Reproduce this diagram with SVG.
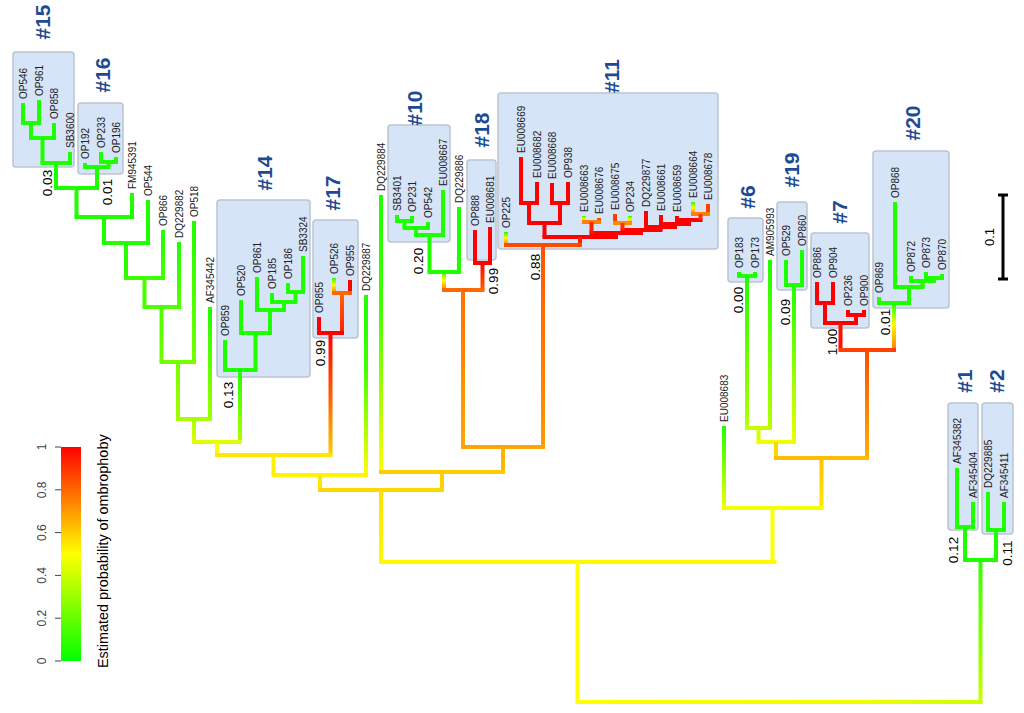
<svg xmlns="http://www.w3.org/2000/svg" width="1024" height="713" viewBox="0 0 1024 713">
<style>
text{font-family:"Liberation Sans",Arial,sans-serif}
.t{font-size:10px;fill:#222}
.c{font-size:21px;font-weight:bold;fill:#1C4B94;text-anchor:middle}
.s{font-size:13.5px;fill:#000;text-anchor:middle}
.k{font-size:12px;fill:#444;text-anchor:middle}
.box{fill:#D6E4F8;stroke:#BCC4CF;stroke-width:1.5}
.g{fill:#1EFF00}
.r{fill:#FF0000}
</style>
<defs>
<linearGradient id="gyo" x1="0" y1="0" x2="0" y2="1"><stop offset="0" stop-color="#1EFF00"/><stop offset="0.45" stop-color="#FFFF00"/><stop offset="1" stop-color="#FF7A00"/></linearGradient>
<linearGradient id="gy2" x1="0" y1="0" x2="0" y2="1"><stop offset="0" stop-color="#1EFF00"/><stop offset="0.4" stop-color="#40FF00"/><stop offset="1" stop-color="#FFFF00"/></linearGradient>
<linearGradient id="g1" x1="0" y1="0" x2="0" y2="1"><stop offset="0" stop-color="#1EFF00"/><stop offset="1" stop-color="#44FF00"/></linearGradient>
<linearGradient id="g2" x1="0" y1="0" x2="0" y2="1"><stop offset="0" stop-color="#1EFF00"/><stop offset="1" stop-color="#55FF00"/></linearGradient>
<linearGradient id="g3" x1="0" y1="0" x2="0" y2="1"><stop offset="0" stop-color="#50FF00"/><stop offset="1" stop-color="#70FF00"/></linearGradient>
<linearGradient id="g4" x1="0" y1="0" x2="0" y2="1"><stop offset="0" stop-color="#1EFF00"/><stop offset="1" stop-color="#77FF00"/></linearGradient>
<linearGradient id="g5" x1="0" y1="0" x2="0" y2="1"><stop offset="0" stop-color="#77FF00"/><stop offset="1" stop-color="#A0FF00"/></linearGradient>
<linearGradient id="g6" x1="0" y1="0" x2="0" y2="1"><stop offset="0" stop-color="#1EFF00"/><stop offset="1" stop-color="#A0FF00"/></linearGradient>
<linearGradient id="g7" x1="0" y1="0" x2="0" y2="1"><stop offset="0" stop-color="#A8FF00"/><stop offset="1" stop-color="#DDFF00"/></linearGradient>
<linearGradient id="g8" x1="0" y1="0" x2="0" y2="1"><stop offset="0" stop-color="#1EFF00"/><stop offset="1" stop-color="#B4FF00"/></linearGradient>
<linearGradient id="g9" x1="0" y1="0" x2="0" y2="1"><stop offset="0" stop-color="#1EFF00"/><stop offset="1" stop-color="#F0FF00"/></linearGradient>
<linearGradient id="gr1" x1="0" y1="0" x2="0" y2="1"><stop offset="0" stop-color="#FF6600"/><stop offset="1" stop-color="#FF2000"/></linearGradient>
<linearGradient id="gry" x1="0" y1="0" x2="0" y2="1"><stop offset="0" stop-color="#FF0000"/><stop offset="0.5" stop-color="#FF5A00"/><stop offset="1" stop-color="#FFCC00"/></linearGradient>
<linearGradient id="gro" x1="0" y1="0" x2="0" y2="1"><stop offset="0" stop-color="#FF0000"/><stop offset="1" stop-color="#FF6000"/></linearGradient>
<linearGradient id="go1" x1="0" y1="0" x2="0" y2="1"><stop offset="0" stop-color="#FF7000"/><stop offset="1" stop-color="#FFA800"/></linearGradient>
<linearGradient id="go2" x1="0" y1="0" x2="0" y2="1"><stop offset="0" stop-color="#FF5500"/><stop offset="1" stop-color="#FF9A00"/></linearGradient>
<linearGradient id="gyy" x1="0" y1="0" x2="0" y2="1"><stop offset="0" stop-color="#FFE000"/><stop offset="1" stop-color="#FFF800"/></linearGradient>
<linearGradient id="go3" x1="0" y1="0" x2="0" y2="1"><stop offset="0" stop-color="#FF4A00"/><stop offset="1" stop-color="#FFB000"/></linearGradient>
<linearGradient id="go4" x1="0" y1="0" x2="0" y2="1"><stop offset="0" stop-color="#FFC000"/><stop offset="1" stop-color="#FFE800"/></linearGradient>
<linearGradient id="gg2" x1="0" y1="0" x2="0" y2="1"><stop offset="0" stop-color="#33FF00"/><stop offset="1" stop-color="#CCFF00"/></linearGradient>
<linearGradient id="hroot" x1="0" y1="0" x2="1" y2="0"><stop offset="0" stop-color="#FFFF00"/><stop offset="0.7" stop-color="#F0FF00"/><stop offset="1" stop-color="#CCFF00"/></linearGradient>
<linearGradient id="leg" x1="0" y1="0" x2="0" y2="1"><stop offset="0" stop-color="#FF0000"/><stop offset="0.25" stop-color="#FF8000"/><stop offset="0.5" stop-color="#FFFF00"/><stop offset="0.75" stop-color="#80FF00"/><stop offset="1" stop-color="#00FF00"/></linearGradient>
</defs>
<rect width="1024" height="713" fill="#fff"/>

<g id="clade-boxes">
<g id="box15"><rect class="box" x="13" y="52" width="61" height="115" rx="3"/><text class="c" transform="translate(43,22) rotate(-90)" dy="0.35em">#15</text></g>
<g id="box16"><rect class="box" x="78" y="103" width="45" height="71" rx="3"/><text class="c" transform="translate(103,75) rotate(-90)" dy="0.35em">#16</text></g>
<g id="box14"><rect class="box" x="217" y="200" width="93" height="177" rx="3"/><text class="c" transform="translate(265,173) rotate(-90)" dy="0.35em">#14</text></g>
<g id="box17"><rect class="box" x="313" y="220" width="45" height="118" rx="3"/><text class="c" transform="translate(333,193) rotate(-90)" dy="0.35em">#17</text></g>
<g id="box10"><rect class="box" x="388" y="125" width="62" height="117" rx="3"/><text class="c" transform="translate(415,108) rotate(-90)" dy="0.35em">#10</text></g>
<g id="box18"><rect class="box" x="467" y="160" width="29" height="100" rx="3"/><text class="c" transform="translate(482,130) rotate(-90)" dy="0.35em">#18</text></g>
<g id="box11"><rect class="box" x="498" y="93" width="220" height="156" rx="3"/><text class="c" transform="translate(612,76) rotate(-90)" dy="0.35em">#11</text></g>
<g id="box6"><rect class="box" x="728" y="218" width="35" height="64" rx="3"/><text class="c" transform="translate(748,197) rotate(-90)" dy="0.35em">#6</text></g>
<g id="box19"><rect class="box" x="777" y="202" width="30" height="88" rx="3"/><text class="c" transform="translate(792,170) rotate(-90)" dy="0.35em">#19</text></g>
<g id="box7"><rect class="box" x="811" y="233" width="58" height="95" rx="3"/><text class="c" transform="translate(840,212) rotate(-90)" dy="0.35em">#7</text></g>
<g id="box20"><rect class="box" x="873" y="151" width="76" height="157" rx="3"/><text class="c" transform="translate(913,123) rotate(-90)" dy="0.35em">#20</text></g>
<g id="box1"><rect class="box" x="948" y="403" width="30" height="127" rx="3"/><text class="c" transform="translate(965,381) rotate(-90)" dy="0.35em">#1</text></g>
<g id="box2"><rect class="box" x="982" y="403" width="31" height="131" rx="3"/><text class="c" transform="translate(997,381) rotate(-90)" dy="0.35em">#2</text></g>
</g>

<g id="connectors">
<!-- #15 / #16 -->
<g class="g">
<rect x="21" y="103" width="4" height="20"/><rect x="37" y="100" width="4" height="23"/><rect x="21" y="121" width="20" height="4"/>
<rect x="29" y="123" width="4" height="15"/><rect x="52" y="123" width="4" height="15"/><rect x="29" y="136" width="27" height="4"/>
<rect x="40.5" y="138" width="4" height="25"/><rect x="68" y="152" width="4" height="11"/><rect x="40.5" y="161" width="31.5" height="4"/>
<rect x="54" y="163" width="4" height="25"/>
<rect x="99" y="152" width="4" height="10"/><rect x="114" y="157" width="4" height="5"/><rect x="99" y="160" width="19" height="4"/>
<rect x="106.5" y="162" width="4" height="5"/><rect x="83" y="163" width="4" height="4"/><rect x="83" y="165" width="27.5" height="4"/>
<rect x="95" y="167" width="4" height="21"/><rect x="54" y="186" width="45" height="4"/>
<rect x="74.5" y="188" width="4" height="29"/><rect x="130" y="193" width="4" height="24"/><rect x="74.5" y="215" width="59.5" height="4"/>
<rect x="102" y="217" width="4" height="26"/><rect x="146" y="200" width="4" height="43"/>
</g>
<rect x="102" y="241" width="48" height="4" fill="#22FF00"/>
<rect x="124" y="243" width="4" height="35" fill="#2AFF00"/>
<rect x="161" y="230" width="4" height="48" fill="url(#g1)"/>
<rect x="124" y="276" width="41" height="4" fill="#3AFF00"/>
<rect x="142.5" y="278" width="4" height="29" fill="#48FF00"/>
<rect x="177" y="242" width="4" height="65" fill="url(#g2)"/>
<rect x="142.5" y="305" width="38.5" height="4" fill="#50FF00"/>
<rect x="159.5" y="307" width="4" height="55" fill="url(#g3)"/>
<rect x="192" y="221" width="4" height="141" fill="url(#g4)"/>
<rect x="159.5" y="360" width="36.5" height="4" fill="#77FF00"/>
<rect x="176" y="362" width="4" height="57" fill="url(#g5)"/>
<rect x="208" y="307" width="4" height="112" fill="url(#g6)"/>
<rect x="176" y="417" width="36" height="4" fill="#A8FF00"/>
<rect x="192" y="419" width="4" height="23" fill="url(#g7)"/>
<!-- #14 -->
<g class="g">
<rect x="286" y="283" width="4" height="9"/><rect x="301" y="256" width="4" height="36"/><rect x="286" y="290" width="19" height="4"/>
<rect x="293.5" y="292" width="4" height="10"/><rect x="270" y="293" width="4" height="9"/><rect x="270" y="300" width="27.5" height="4"/>
<rect x="282" y="302" width="4" height="8"/><rect x="255" y="277" width="4" height="33"/><rect x="255" y="308" width="31" height="4"/>
<rect x="268" y="310" width="4" height="23"/><rect x="239" y="300" width="4" height="33"/><rect x="239" y="331" width="33" height="4"/>
<rect x="253.5" y="333" width="4" height="37"/><rect x="223" y="340" width="4" height="30"/><rect x="223" y="368" width="34.5" height="4"/>
</g>
<rect x="238" y="370" width="4" height="72" fill="url(#g8)"/>
<rect x="192" y="440" width="50" height="4" fill="#E0FF00"/>
<rect x="215" y="442" width="4" height="13" fill="#F8FF00"/>
<!-- #17 -->
<rect x="332" y="278" width="4" height="15" fill="url(#gyo)"/>
<rect x="348" y="280" width="4" height="13" class="r"/>
<rect x="332" y="291" width="20" height="4" fill="#FF6600"/>
<rect x="340" y="293" width="4" height="40" fill="url(#gr1)"/>
<rect x="317" y="317" width="4" height="16" class="r"/>
<rect x="317" y="331" width="27" height="4" class="r"/>
<rect x="328.5" y="333" width="4" height="122" fill="url(#gry)"/>
<rect x="215" y="453" width="117.5" height="4" fill="#FFE800"/>
<rect x="271.5" y="455" width="4" height="20" fill="#FFF000"/>
<rect x="364" y="295" width="4" height="180" fill="url(#gy2)"/>
<rect x="271.5" y="473" width="96.5" height="4" fill="#FFF400"/>
<rect x="318" y="475" width="4" height="15" fill="#FFE800"/>
<!-- #10 -->
<g class="g">
<rect x="395" y="215" width="4" height="6"/><rect x="410" y="216" width="4" height="5"/><rect x="395" y="219" width="19" height="4"/>
<rect x="402.5" y="221" width="4" height="7"/><rect x="426" y="222" width="4" height="6"/><rect x="402.5" y="226" width="27.5" height="4"/>
<rect x="414" y="228" width="4" height="7"/><rect x="441" y="190" width="4" height="45"/><rect x="414" y="233" width="31" height="4"/>
<rect x="427.5" y="235" width="4" height="37"/><rect x="457" y="207" width="4" height="65"/><rect x="427.5" y="270" width="33.5" height="4"/>
</g>
<rect x="442" y="272" width="4" height="18" fill="url(#gyo)"/>
<!-- #18 -->
<g class="r">
<rect x="473" y="230" width="4" height="33"/><rect x="488" y="227" width="4" height="36"/><rect x="473" y="261" width="19" height="4"/>
</g>
<rect x="480.5" y="263" width="4" height="27" fill="url(#gro)"/>
<rect x="442" y="288" width="42.5" height="4" fill="#FF6A00"/>
<rect x="461" y="290" width="4" height="157" fill="url(#go1)"/>
<rect x="379" y="195" width="4" height="277" fill="url(#gy2)"/>
<!-- #11 -->
<g class="r">
<rect x="519" y="157" width="4" height="46"/><rect x="535" y="182" width="4" height="21"/><rect x="519" y="201" width="20" height="4"/>
<rect x="527" y="203" width="4" height="20"/>
<rect x="550" y="183" width="4" height="20"/><rect x="566" y="182" width="4" height="21"/><rect x="550" y="201" width="20" height="4"/>
<rect x="558" y="203" width="4" height="20"/><rect x="527" y="221" width="35" height="4"/>
<rect x="542.5" y="223" width="4" height="14"/>
<rect x="675" y="216" width="4" height="4"/><rect x="675" y="218" width="27.5" height="4"/>
<rect x="687" y="220" width="4" height="4"/><rect x="659" y="215" width="4" height="9"/><rect x="659" y="222" width="32" height="4"/>
<rect x="673" y="224" width="4" height="3"/><rect x="644" y="211" width="4" height="16"/><rect x="644" y="225" width="33" height="4"/>
<rect x="658.5" y="227" width="4" height="3"/><rect x="620.5" y="228" width="42" height="4"/>
<rect x="639" y="230" width="4" height="3"/><rect x="589.5" y="231" width="53.5" height="4"/>
<rect x="614" y="233" width="4" height="4"/><rect x="542.5" y="235" width="75.5" height="4"/>
</g>
<rect x="691" y="202" width="4" height="12" fill="url(#gyo)"/>
<rect x="706" y="204" width="4" height="10" fill="#FF4000"/>
<rect x="691" y="212" width="19" height="4" fill="#FF8000"/>
<rect x="698.5" y="214" width="4" height="6" fill="#FF3000"/>
<rect x="613" y="214" width="4" height="9" fill="#FF4000"/>
<rect x="628" y="216" width="4" height="7" fill="url(#gyo)"/>
<rect x="613" y="221" width="19" height="4" fill="#FF8C00"/>
<rect x="620.5" y="223" width="4" height="7" fill="#FF3000"/>
<rect x="582" y="216" width="4" height="6" fill="url(#gyo)"/>
<rect x="597" y="218" width="4" height="4" fill="#FF5000"/>
<rect x="582" y="220" width="19" height="4" fill="#FF8000"/>
<rect x="589.5" y="222" width="4" height="11" fill="#FF2000"/>
<rect x="578" y="237" width="4" height="8" fill="#FF2000"/>
<rect x="504" y="232" width="4" height="13" fill="url(#gyo)"/>
<rect x="504" y="243" width="78" height="4" fill="#FF4A00"/>
<rect x="541" y="245" width="4" height="202" fill="url(#go2)"/>
<rect x="461" y="445" width="84" height="4" fill="#FFA500"/>
<rect x="501" y="447" width="4" height="25" fill="#FFB400"/>
<rect x="379" y="470" width="126" height="4" fill="#FFCC00"/>
<rect x="440" y="472" width="4" height="18" fill="#FFD000"/>
<rect x="318" y="488" width="126" height="4" fill="#FFD800"/>
<rect x="379" y="490" width="4" height="72" fill="url(#gyy)"/>
<rect x="379" y="560" width="397.5" height="4" fill="#FFFA00"/>
<rect x="575.5" y="562" width="4" height="140" fill="#FFFF00"/>
<!-- right part -->
<rect x="722" y="426" width="4" height="82" fill="url(#g9)"/>
<g class="g">
<rect x="737" y="272" width="4" height="4"/><rect x="753" y="272" width="4" height="4"/><rect x="737" y="274" width="20" height="4"/>
<rect x="784" y="260" width="4" height="25"/><rect x="800" y="250" width="4" height="35"/><rect x="784" y="283" width="20" height="4"/>
</g>
<rect x="745" y="276" width="4" height="152" fill="url(#g8)"/>
<rect x="768" y="260" width="4" height="168" fill="url(#g8)"/>
<rect x="745" y="426" width="27" height="4" fill="#C4FF00"/>
<rect x="756.5" y="428" width="4" height="14" fill="#D8FF00"/>
<rect x="792" y="285" width="4" height="157" fill="url(#g9)"/>
<rect x="756.5" y="440" width="39.5" height="4" fill="#F0FF00"/>
<rect x="774" y="442" width="4" height="16" fill="#FFD400"/>
<!-- #7 -->
<g class="r">
<rect x="815" y="282" width="4" height="21"/><rect x="831" y="282" width="4" height="21"/><rect x="815" y="301" width="20" height="4"/>
<rect x="823" y="303" width="4" height="20"/>
<rect x="846" y="310" width="4" height="5"/><rect x="862" y="310" width="4" height="5"/><rect x="846" y="313" width="20" height="4"/>
<rect x="854" y="315" width="4" height="8"/><rect x="823" y="321" width="35" height="4"/>
</g>
<rect x="838.5" y="323" width="4" height="27" fill="#FF1000"/>
<!-- #20 -->
<g class="g">
<rect x="924" y="272" width="4" height="6"/><rect x="940" y="274" width="4" height="4"/><rect x="924" y="276" width="20" height="4"/>
<rect x="932" y="278" width="4" height="3"/><rect x="909" y="276" width="4" height="5"/><rect x="909" y="279" width="27" height="4"/>
<rect x="920.5" y="281" width="4" height="6"/><rect x="893" y="202" width="4" height="85"/><rect x="893" y="285" width="31.5" height="4"/>
<rect x="907" y="287" width="4" height="16"/><rect x="877" y="297" width="4" height="6"/><rect x="877" y="301" width="34" height="4"/>
</g>
<rect x="892" y="303" width="4" height="47" fill="url(#gyo)"/>
<rect x="838.5" y="348" width="57.5" height="4" fill="#FF4000"/>
<rect x="865" y="350" width="4" height="108" fill="url(#go3)"/>
<rect x="774" y="456" width="95" height="4" fill="#FFBC00"/>
<rect x="819.5" y="458" width="4" height="50" fill="url(#go4)"/>
<rect x="722" y="506" width="101.5" height="4" fill="#F4FF00"/>
<rect x="770.5" y="508" width="4" height="54" fill="#FFFF00"/>
<!-- #1 #2 -->
<g class="g">
<rect x="955" y="468" width="4" height="59"/><rect x="971" y="502" width="4" height="25"/><rect x="955" y="525" width="20" height="4"/>
<rect x="963" y="527" width="4" height="33"/>
<rect x="986" y="492" width="4" height="38"/><rect x="1002" y="502" width="4" height="28"/><rect x="986" y="528" width="20" height="4"/>
<rect x="994" y="530" width="4" height="30"/><rect x="963" y="558" width="35" height="4"/>
</g>
<rect x="978.5" y="560" width="4" height="142" fill="url(#gg2)"/>
<rect x="575.5" y="700" width="407" height="4" fill="url(#hroot)"/>
</g>

<g id="tip-labels" class="t">
<text transform="translate(23,99) rotate(-90)" dy="0.35em">OP546</text>
<text transform="translate(39,96) rotate(-90)" dy="0.35em">OP961</text>
<text transform="translate(54,119) rotate(-90)" dy="0.35em">OP858</text>
<text transform="translate(70,148) rotate(-90)" dy="0.35em">SB3600</text>
<text transform="translate(85,159) rotate(-90)" dy="0.35em">OP192</text>
<text transform="translate(101,148) rotate(-90)" dy="0.35em">OP233</text>
<text transform="translate(116,153) rotate(-90)" dy="0.35em">OP196</text>
<text transform="translate(132,189) rotate(-90)" dy="0.35em">FM945391</text>
<text transform="translate(148,196) rotate(-90)" dy="0.35em">OP544</text>
<text transform="translate(163,226) rotate(-90)" dy="0.35em">OP866</text>
<text transform="translate(179,238) rotate(-90)" dy="0.35em">DQ229882</text>
<text transform="translate(194,217) rotate(-90)" dy="0.35em">OP518</text>
<text transform="translate(210,303) rotate(-90)" dy="0.35em">AF345442</text>
<text transform="translate(225,336) rotate(-90)" dy="0.35em">OP859</text>
<text transform="translate(241,296) rotate(-90)" dy="0.35em">OP520</text>
<text transform="translate(257,273) rotate(-90)" dy="0.35em">OP861</text>
<text transform="translate(272,289) rotate(-90)" dy="0.35em">OP185</text>
<text transform="translate(288,279) rotate(-90)" dy="0.35em">OP186</text>
<text transform="translate(303,252) rotate(-90)" dy="0.35em">SB3324</text>
<text transform="translate(319,313) rotate(-90)" dy="0.35em">OP855</text>
<text transform="translate(334,274) rotate(-90)" dy="0.35em">OP526</text>
<text transform="translate(350,276) rotate(-90)" dy="0.35em">OP955</text>
<text transform="translate(366,291) rotate(-90)" dy="0.35em">DQ229887</text>
<text transform="translate(381,191) rotate(-90)" dy="0.35em">DQ229884</text>
<text transform="translate(397,211) rotate(-90)" dy="0.35em">SB3401</text>
<text transform="translate(412,212) rotate(-90)" dy="0.35em">OP231</text>
<text transform="translate(428,218) rotate(-90)" dy="0.35em">OP542</text>
<text transform="translate(443,186) rotate(-90)" dy="0.35em">EU008667</text>
<text transform="translate(459,203) rotate(-90)" dy="0.35em">DQ229886</text>
<text transform="translate(475,226) rotate(-90)" dy="0.35em">OP888</text>
<text transform="translate(490,223) rotate(-90)" dy="0.35em">EU008681</text>
<text transform="translate(506,228) rotate(-90)" dy="0.35em">OP225</text>
<text transform="translate(521,153) rotate(-90)" dy="0.35em">EU008669</text>
<text transform="translate(537,178) rotate(-90)" dy="0.35em">EU008682</text>
<text transform="translate(552,179) rotate(-90)" dy="0.35em">EU008668</text>
<text transform="translate(568,178) rotate(-90)" dy="0.35em">OP938</text>
<text transform="translate(584,212) rotate(-90)" dy="0.35em">EU008663</text>
<text transform="translate(599,214) rotate(-90)" dy="0.35em">EU008676</text>
<text transform="translate(615,210) rotate(-90)" dy="0.35em">EU008675</text>
<text transform="translate(630,212) rotate(-90)" dy="0.35em">OP234</text>
<text transform="translate(646,207) rotate(-90)" dy="0.35em">DQ229877</text>
<text transform="translate(661,211) rotate(-90)" dy="0.35em">EU008661</text>
<text transform="translate(677,212) rotate(-90)" dy="0.35em">EU008659</text>
<text transform="translate(693,198) rotate(-90)" dy="0.35em">EU008664</text>
<text transform="translate(708,200) rotate(-90)" dy="0.35em">EU008678</text>
<text transform="translate(724,422) rotate(-90)" dy="0.35em">EU008683</text>
<text transform="translate(739,268) rotate(-90)" dy="0.35em">OP183</text>
<text transform="translate(755,268) rotate(-90)" dy="0.35em">OP173</text>
<text transform="translate(770,256) rotate(-90)" dy="0.35em">AM905993</text>
<text transform="translate(786,256) rotate(-90)" dy="0.35em">OP529</text>
<text transform="translate(802,246) rotate(-90)" dy="0.35em">OP860</text>
<text transform="translate(817,278) rotate(-90)" dy="0.35em">OP886</text>
<text transform="translate(833,278) rotate(-90)" dy="0.35em">OP904</text>
<text transform="translate(848,306) rotate(-90)" dy="0.35em">OP236</text>
<text transform="translate(864,306) rotate(-90)" dy="0.35em">OP900</text>
<text transform="translate(879,293) rotate(-90)" dy="0.35em">OP869</text>
<text transform="translate(895,198) rotate(-90)" dy="0.35em">OP868</text>
<text transform="translate(911,272) rotate(-90)" dy="0.35em">OP872</text>
<text transform="translate(926,268) rotate(-90)" dy="0.35em">OP873</text>
<text transform="translate(942,270) rotate(-90)" dy="0.35em">OP870</text>
<text transform="translate(957,464) rotate(-90)" dy="0.35em">AF345382</text>
<text transform="translate(973,498) rotate(-90)" dy="0.35em">AF345404</text>
<text transform="translate(988,488) rotate(-90)" dy="0.35em">DQ229885</text>
<text transform="translate(1004,498) rotate(-90)" dy="0.35em">AF345411</text>
</g>

<g id="support-values" class="s">
<text transform="translate(47,183) rotate(-90)" dy="0.35em">0.03</text>
<text transform="translate(107,192) rotate(-90)" dy="0.35em">0.01</text>
<text transform="translate(228,395) rotate(-90)" dy="0.35em">0.13</text>
<text transform="translate(320,353) rotate(-90)" dy="0.35em">0.99</text>
<text transform="translate(418,261) rotate(-90)" dy="0.35em">0.20</text>
<text transform="translate(493,281) rotate(-90)" dy="0.35em">0.99</text>
<text transform="translate(535,267) rotate(-90)" dy="0.35em">0.88</text>
<text transform="translate(738,300) rotate(-90)" dy="0.35em">0.00</text>
<text transform="translate(785,312) rotate(-90)" dy="0.35em">0.09</text>
<text transform="translate(832,342) rotate(-90)" dy="0.35em">1.00</text>
<text transform="translate(885,322) rotate(-90)" dy="0.35em">0.01</text>
<text transform="translate(953,550) rotate(-90)" dy="0.35em">0.12</text>
<text transform="translate(1007,553) rotate(-90)" dy="0.35em">0.11</text>
</g>

<g id="scale-bar">
<line x1="1003" y1="195" x2="1003" y2="279" stroke="#000" stroke-width="3"/>
<line x1="998" y1="195" x2="1008" y2="195" stroke="#000" stroke-width="3"/>
<line x1="998" y1="279" x2="1008" y2="279" stroke="#000" stroke-width="3"/>
<text transform="translate(989,237) rotate(-90)" dy="0.35em" style="font-size:13px;text-anchor:middle;fill:#000">0.1</text>
</g>

<g id="legend">
<rect x="61" y="447" width="20" height="214" fill="url(#leg)"/>
<g stroke="#444" stroke-width="1">
<line x1="55" y1="447" x2="61" y2="447"/><line x1="55" y1="489.8" x2="61" y2="489.8"/><line x1="55" y1="532.6" x2="61" y2="532.6"/>
<line x1="55" y1="575.4" x2="61" y2="575.4"/><line x1="55" y1="618.2" x2="61" y2="618.2"/><line x1="55" y1="661" x2="61" y2="661"/>
</g>
<g class="k">
<text transform="translate(42,447) rotate(-90)" dy="0.35em">1</text>
<text transform="translate(42,489.8) rotate(-90)" dy="0.35em">0.8</text>
<text transform="translate(42,532.6) rotate(-90)" dy="0.35em">0.6</text>
<text transform="translate(42,575.4) rotate(-90)" dy="0.35em">0.4</text>
<text transform="translate(42,618.2) rotate(-90)" dy="0.35em">0.2</text>
<text transform="translate(42,661) rotate(-90)" dy="0.35em">0</text>
</g>
<text transform="translate(103,668) rotate(-90)" dy="0.35em" style="font-size:14.4px;fill:#000">Estimated probability of ombrophoby</text>
</g>
</svg>
